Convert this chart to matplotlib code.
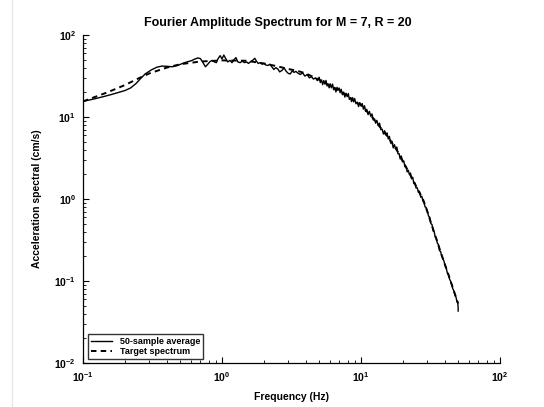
import matplotlib
matplotlib.use("Agg")
import matplotlib.pyplot as plt
from matplotlib.lines import Line2D
from matplotlib.ticker import LogLocator

# ---------------- data ----------------
freq_avg = [0.10, 0.12, 0.14, 0.16, 0.18, 0.20, 0.22, 0.24, 0.26, 0.28, 0.31, 0.34, 0.37, 0.40,
            0.44, 0.48, 0.52, 0.56, 0.60, 0.64, 0.67, 0.70, 0.73, 0.76, 0.79, 0.82, 0.85, 0.88,
            0.91, 0.94, 0.97, 1.00, 1.03, 1.06, 1.10, 1.14, 1.18, 1.22, 1.26, 1.30, 1.35, 1.40,
            1.45, 1.50, 1.55, 1.60, 1.66, 1.72, 1.77, 1.82, 1.88, 1.94,
            2.00, 2.07, 2.14, 2.21, 2.28, 2.36, 2.44, 2.52, 2.60, 2.70, 2.80, 2.90, 3.00, 3.10,
            3.20, 3.30, 3.40, 3.50, 3.65, 3.80, 3.95, 4.10, 4.25, 4.40, 4.55, 4.70, 4.85,
            5.0, 5.1, 5.2, 5.3, 5.4, 5.5, 5.6, 5.7, 5.8, 5.9, 6.0, 6.12, 6.24, 6.36, 6.48, 6.6,
            6.72, 6.84, 6.96, 7.08, 7.2, 7.35, 7.5, 7.65, 7.8, 7.95, 8.1, 8.25, 8.4, 8.55, 8.7,
            8.85, 9.0, 9.2, 9.4, 9.6, 9.8, 10.0, 10.2, 10.4, 10.6, 10.8, 11.0, 11.25, 11.5,
            11.75, 12.0, 12.25, 12.5, 12.75, 13.0, 13.3, 13.6, 13.9, 14.2, 14.5, 14.8, 15.1,
            15.4, 15.7, 16.0, 16.35, 16.7, 17.05, 17.4, 17.75, 18.1, 18.45, 18.8, 19.15, 19.5,
            19.9, 20.3, 20.7, 21.1, 21.5, 21.9, 22.3, 22.7, 23.1, 23.55, 24.0, 24.45, 24.9,
            25.4, 25.9, 26.4, 26.9, 27.4, 27.9, 28.4, 28.9, 29.4, 30.0, 30.6, 31.2, 31.8,
            32.4, 33.0, 33.6, 34.2, 34.8, 35.4, 36.0, 36.7, 37.4, 38.1, 38.8, 39.5, 40.2,
            41.0, 41.8, 42.6, 43.4, 44.2, 45.0, 45.8, 46.6, 47.4, 48.2, 49.0, 49.6, 50.0, 50.0]
amp_avg = [15.5, 16.6, 17.7, 18.8, 19.9, 21.0, 22.6, 25.5, 29.5, 33.5, 37.5, 40.5, 41.8, 41.5,
           41.0, 42.5, 45.0, 47.0, 48.5, 51.0, 52.5, 51.5, 46.0, 41.0, 44.0, 47.5, 49.0, 47.0,
           46.0, 52.0, 56.0, 51.0, 57.0, 52.0, 47.0, 49.0, 46.0, 50.0, 53.0, 47.0, 46.0, 48.0,
           46.0, 47.0, 45.0, 47.0, 49.0, 52.0, 48.0, 45.0, 46.0, 44.0,
           45.0, 43.0, 42.5, 44.0, 41.0, 38.0, 40.0, 38.5, 35.5, 37.0, 39.5, 36.0, 34.0, 33.5,
           36.5, 35.0, 36.0, 34.5, 33.0, 34.5, 31.5, 33.0, 30.0, 31.0, 29.0, 30.0, 27.8,
           30.5, 26.3, 28.3, 24.8, 27.8, 25.2, 27.9, 23.9, 25.3, 22.7, 25.4, 22.7, 25.2, 21.5,
           22.8, 20.2, 23.0, 21.2, 22.6, 19.8, 21.8, 18.7, 20.1, 17.5, 19.5, 17.7, 19.3, 16.4,
           17.2, 15.4, 17.2, 15.3, 16.8, 14.5, 15.2, 13.4, 15.0, 13.7, 14.6, 12.5, 13.7, 11.7,
           12.4, 10.7, 11.7, 10.2, 10.9, 9.2, 9.5, 8.4, 9.1, 7.9, 8.4, 7.0, 7.1, 6.2, 6.8,
           6.1, 6.4, 5.4, 5.8, 4.8, 5.05, 4.2, 4.6, 4.1, 4.3, 3.56, 3.57, 3.07, 3.34, 2.83,
           2.92, 2.47, 2.47, 2.14, 2.24, 1.99, 2.07, 1.76, 1.84, 1.54, 1.56, 1.36, 1.37, 1.2,
           1.22, 1.05, 1.08, 0.94, 0.92, 0.80, 0.79, 0.72, 0.62, 0.60, 0.50, 0.49, 0.41, 0.40,
           0.345, 0.335, 0.29, 0.28, 0.235, 0.228, 0.20, 0.186, 0.176, 0.155, 0.145, 0.125,
           0.12, 0.105, 0.099, 0.09, 0.08, 0.076, 0.067, 0.064, 0.056, 0.054, 0.048, 0.043]

freq_target = [0.10, 0.15, 0.20, 0.25, 0.30, 0.40, 0.50, 0.70, 1.0, 1.5, 2.0, 2.5, 3.0, 3.5,
               4.0, 4.5, 5.0, 6.0, 7.0, 8.0, 9.0, 10.0, 12.0, 14.0, 16.0, 18.0, 20.0, 22.5,
               25.0, 28.0, 30.0, 33.0, 35.0, 37.0, 40.0, 43.0, 45.0, 48.0, 50.0]
amp_target = [15.5, 20.0, 24.5, 29.5, 34.0, 40.0, 44.0, 47.5, 49.0, 48.5, 45.0, 41.5, 38.5, 36.5,
              34.0, 31.0, 28.5, 24.0, 21.0, 18.0, 15.8, 14.0, 10.0, 7.2, 5.4, 4.0, 2.9, 2.0,
              1.42, 0.98, 0.70, 0.43, 0.317, 0.239, 0.162, 0.113, 0.09, 0.065, 0.053]

title_text = "Fourier Amplitude Spectrum for M = 7, R = 20"
xlabel_text = "Frequency (Hz)"
ylabel_text = "Acceleration spectral (cm/s)"
legend_labels = ["50-sample average", "Target spectrum"]

# ---------------- style ----------------
plt.rcParams['font.family'] = ['Liberation Sans', 'DejaVu Sans']
plt.rcParams['font.weight'] = 'bold'
plt.rcParams['mathtext.fontset'] = 'custom'
plt.rcParams['mathtext.rm'] = 'Liberation Sans:bold'
plt.rcParams['mathtext.it'] = 'Liberation Sans:bold'
plt.rcParams['mathtext.bf'] = 'Liberation Sans:bold'
plt.rcParams['mathtext.default'] = 'regular'

fig = plt.figure(figsize=(5.44, 4.07), dpi=100)
W, H = 544, 407
ax = fig.add_axes([83 / W, 1 - 363 / H, (500 - 83) / W, (363 - 35) / H])

ax.plot(freq_avg, amp_avg, color='black', lw=1.0, label=legend_labels[0])
ax.plot(freq_target, amp_target, color='black', lw=1.4, linestyle=(0, (2.8, 2.2)),
        label=legend_labels[1])

ax.set_xscale('log')
ax.set_yscale('log')
ax.set_xlim(0.1, 100)
ax.set_ylim(0.01, 100)
ax.xaxis.set_major_locator(LogLocator(base=10, numticks=10))
ax.yaxis.set_major_locator(LogLocator(base=10, numticks=10))
ax.xaxis.set_minor_locator(LogLocator(base=10, subs=range(2, 10), numticks=20))
ax.yaxis.set_minor_locator(LogLocator(base=10, subs=range(2, 10), numticks=20))

for s in ['top', 'right']:
    ax.spines[s].set_visible(False)
for s in ['left', 'bottom']:
    ax.spines[s].set_linewidth(0.9)

ax.tick_params(which='major', direction='in', length=4, width=0.8, labelsize=7.5, pad=5)
ax.tick_params(which='minor', direction='in', length=2.2, width=0.6)

fig.text(278 / W, 1 - 23 / H, title_text, ha='center', va='center',
         fontsize=9, fontweight='bold')
fig.text(291 / W, 1 - 397 / H, xlabel_text, ha='center', va='center',
         fontsize=7.5, fontweight='bold')
fig.text(37 / W, 1 - 199 / H, ylabel_text, ha='center', va='center', rotation=90,
         fontsize=7.5, fontweight='bold')

leg = ax.legend(loc='lower left', bbox_to_anchor=(5 / 417, 4 / 328), borderaxespad=0,
                fontsize=6.5, frameon=True, fancybox=False, handlelength=2.4,
                handletextpad=0.8, borderpad=0.3, labelspacing=0.15)
leg.get_frame().set_edgecolor('black')
leg.get_frame().set_linewidth(1.0)

# faint page edge line seen at the left of the reference
fig.add_artist(Line2D([12 / W, 12 / W], [0, 1], transform=fig.transFigure,
                      color='#e6e6e6', lw=1))

fig.savefig('out.png', dpi=100)
